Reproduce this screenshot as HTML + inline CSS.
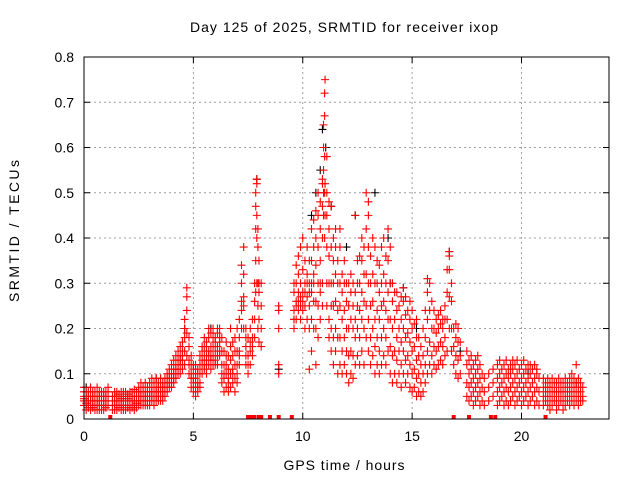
<!DOCTYPE html>
<html><head><meta charset="utf-8"><style>
html,body{margin:0;padding:0;background:#fff;}
svg{display:block;font-family:"Liberation Sans",sans-serif;}
</style></head><body>
<svg id="chart" width="640" height="480" viewBox="0 0 640 480">
<rect width="640" height="480" fill="#fff"/>
<text x="344" y="32" font-size="14" text-anchor="middle" textLength="308" lengthAdjust="spacing" fill="#000">Day 125 of 2025, SRMTID for receiver ixop</text>
<text transform="translate(19,231) rotate(-90)" font-size="14" text-anchor="middle" textLength="142" lengthAdjust="spacing" fill="#000">SRMTID / TECUs</text>
<text x="344" y="470" font-size="14" text-anchor="middle" textLength="121" lengthAdjust="spacing" fill="#000">GPS time / hours</text>
<g id="grid"></g>
<g id="marks"></g>
<g id="ticks"></g>
<rect x="84" y="57" width="525" height="362" fill="none" stroke="#000" stroke-width="1"/>
</svg>
<script>
const xTicks=[0,5,10,15,20];
const yTicks=[0,0.1,0.2,0.3,0.4,0.5,0.6,0.7,0.8];
const zeroHours=[1.2,7.5,7.55,7.7,7.8,8.0,8.1,8.5,8.9,9.5,16.9,17.6,18.6,18.8,21.1];
const blackPoints=[[4.6,.2],[7.9,.53],[10.9,.64],[11.05,.6],[10.6,.5],[12.4,.45],[13.9,.4],[16.7,.37],[8.9,.11],[10.4,.45],[14,.3],[12,.38],[5.8,.2],[15.2,.2],[9.6,.22],[17.2,.15],[0.1,.07],[3.3,.09],[20.3,.1],[22.5,.08],[13.3,.5],[10.8,.55],[11.3,.47],[14.6,.29]];
/* rows: [hour, value, value, ...] */
const redRows=[
[0.0,.03,.05,.07,.04,.06,.045],[0.1,.02,.04,.06,.03,.05,.035],[0.2,.03,.05,.04,.06,.025],[0.3,.04,.03,.05,.07,.02],[0.4,.03,.05,.04,.025,.06],[0.5,.04,.03,.05,.06,.02],
[0.6,.03,.04,.05,.02,.07],[0.7,.04,.03,.05,.06,.02],[0.8,.03,.05,.04,.02,.06],[0.9,.04,.03,.06,.05,.02],[1.0,.03,.05,.04,.06,.025],[1.1,.04,.03,.05,.07,.06],
[1.3,.03,.05,.02,.04],[1.4,.04,.03,.05,.06,.02],[1.5,.03,.05,.04,.02,.06],[1.6,.04,.03,.05,.025,.055],[1.7,.03,.045,.02,.06,.04],[1.8,.04,.03,.05,.06,.02],
[1.9,.03,.05,.04,.02,.06],[2.0,.045,.03,.05,.025,.055],[2.1,.03,.04,.06,.02,.05],[2.2,.04,.03,.05,.06,.025],[2.3,.03,.05,.04,.02,.065],[2.4,.04,.035,.05,.06,.025],
[2.5,.03,.05,.07,.04,.06],[2.6,.04,.06,.03,.08,.05],[2.7,.05,.03,.07,.04,.06],[2.8,.04,.06,.08,.03,.05],[2.9,.05,.07,.03,.06,.04],[3.0,.04,.06,.08,.05,.03],
[3.1,.05,.07,.04,.06,.09],[3.2,.04,.06,.08,.05,.03],[3.3,.05,.07,.09,.04,.06],[3.4,.06,.04,.08,.05,.07],[3.5,.05,.07,.09,.04,.06],[3.6,.06,.08,.05,.07,.04],
[3.7,.05,.07,.09,.06,.08],[3.8,.06,.08,.1,.07,.09],[3.9,.07,.09,.11,.08,.1],[4.0,.08,.1,.12,.09,.07],[4.1,.09,.11,.13,.1,.08],[4.2,.1,.12,.14,.11,.09],
[4.3,.11,.13,.15,.12,.1],[4.4,.1,.14,.16,.12,.13],[4.5,.11,.14,.17,.13,.15],[4.6,.12,.18,.22,.15,.2],[4.7,.14,.24,.29,.27,.19],[4.8,.1,.13,.16,.18,.12],
[4.9,.07,.1,.12,.09,.14],[5.0,.06,.08,.11,.09,.12],[5.1,.05,.07,.09,.1,.12],[5.2,.06,.08,.1,.07,.11],[5.3,.08,.1,.12,.07,.14],[5.4,.1,.13,.16,.12,.15],
[5.5,.11,.14,.18,.12,.16],[5.6,.1,.13,.17,.15,.12],[5.7,.12,.15,.18,.14,.2],[5.8,.11,.14,.19,.16,.13],[5.9,.12,.16,.2,.14,.18],[6.0,.13,.15,.18,.12,.17],
[6.1,.12,.16,.19,.14,.2],[6.2,.14,.17,.2,.15,.18],[6.3,.08,.12,.15,.1,.18],[6.4,.06,.09,.12,.15,.1],[6.5,.07,.1,.14,.12,.17],[6.6,.06,.09,.11,.14,.08],
[6.7,.07,.1,.13,.16,.2],[6.8,.08,.11,.14,.17,.1],[6.9,.06,.09,.12,.15,.18],[7.0,.08,.12,.15,.2,.1],[7.1,.12,.15,.18,.22,.14],[7.2,.2,.26,.3,.34,.24],
[7.3,.2,.27,.32,.38,.25],[7.4,.12,.16,.2,.14,.18],[7.5,.1,.14,.18,.12],[7.6,.12,.15,.2,.17],[7.7,.14,.18,.22,.16],[7.8,.18,.22,.3,.26],
[7.85,.35,.42,.47,.5,.28],[7.9,.3,.4,.45,.52,.53],[7.95,.25,.3,.38,.42,.2],[8.0,.17,.22,.28,.35,.3],[8.1,.16,.2,.25,.3],
[8.9,.1,.12,.2,.24,.25],[9.6,.2,.24,.28,.3,.22],[9.7,.22,.26,.3,.34,.25],[9.8,.24,.28,.32,.36,.26],[9.9,.22,.27,.3,.38,.25],[10.0,.24,.28,.33,.4,.26],
[10.1,.2,.25,.3,.35,.28],[10.2,.22,.27,.32,.38,.3],[10.3,.11,.2,.25,.3,.35,.28],[10.4,.15,.22,.28,.35,.42,.3],[10.5,.2,.26,.32,.38,.44,.3],[10.6,.12,.2,.26,.34,.4,.46],
[10.7,.18,.25,.3,.38,.45,.5],[10.8,.22,.28,.35,.42,.48,.3],[10.9,.25,.3,.4,.47,.52,.53],[10.95,.45,.55,.6,.65,.5],[11.0,.4,.5,.58,.67,.72],[11.02,.75,.52,.45],
[11.1,.25,.3,.38,.45,.5,.58],[11.2,.18,.22,.3,.36,.42,.48],[11.3,.15,.2,.25,.3,.38,.47],[11.4,.12,.18,.25,.3,.35,.4],[11.5,.15,.2,.26,.32,.38,.42],[11.6,.1,.18,.24,.3,.35],
[11.7,.12,.18,.25,.3,.38,.42],[11.8,.1,.15,.22,.28,.32],[11.9,.12,.18,.24,.3,.35],[12.0,.1,.15,.2,.26,.3],[12.1,.08,.14,.2,.25,.3],[12.2,.1,.15,.22,.28,.32],
[12.3,.09,.14,.2,.25,.3],[12.4,.12,.18,.22,.28,.45],[12.5,.14,.2,.25,.3,.35],[12.6,.12,.18,.24,.3,.36],[12.7,.15,.22,.28,.35,.4],[12.8,.12,.2,.26,.32,.38],
[12.9,.18,.25,.32,.42,.5],[13.0,.15,.22,.3,.38,.45,.48],[13.1,.12,.18,.25,.3,.36],[13.2,.14,.2,.26,.32,.4],[13.3,.1,.16,.22,.3,.38],[13.4,.12,.18,.24,.3,.35],
[13.5,.1,.15,.22,.28,.34],[13.6,.12,.18,.25,.3,.38],[13.7,.14,.2,.26,.32,.4],[13.8,.12,.18,.24,.3,.36],[13.9,.15,.22,.28,.35,.42],[14.0,.1,.16,.22,.3,.38],
[14.1,.08,.14,.2,.26,.3],[14.2,.1,.15,.22,.28],[14.3,.08,.13,.18,.24,.28],[14.4,.1,.15,.2,.25],[14.5,.07,.12,.17,.22,.27],[14.6,.1,.15,.2,.26,.29],
[14.7,.08,.13,.18,.23,.27],[14.8,.1,.14,.19,.24],[14.9,.07,.12,.17,.22,.26],[15.0,.06,.1,.15,.2,.24],[15.1,.07,.11,.16,.21],[15.2,.05,.09,.13,.18,.22],
[15.3,.06,.1,.14,.18],[15.4,.05,.08,.12,.16],[15.5,.06,.1,.14,.2],[15.6,.08,.12,.18,.24],[15.7,.1,.15,.22,.28,.31],[15.8,.12,.17,.24,.3],
[15.9,.1,.14,.2,.26],[16.0,.12,.16,.2,.24],[16.1,.11,.15,.19,.22],[16.2,.12,.16,.2,.23],[16.3,.13,.17,.21,.24],[16.4,.12,.16,.2,.22],
[16.5,.14,.18,.22,.25],[16.6,.15,.22,.28,.33],[16.7,.2,.27,.33,.36,.37],[16.8,.15,.2,.26,.3],[16.9,.12,.16,.2],[17.0,.1,.14,.18,.21],
[17.1,.09,.13,.17,.2],[17.2,.1,.14,.17],[17.5,.05,.08,.12,.15],[17.6,.04,.07,.1,.13],[17.7,.05,.08,.11,.14],[17.8,.03,.06,.09,.12],
[17.9,.04,.07,.1,.13],[18.0,.05,.08,.11,.14],[18.1,.03,.06,.09,.12],[18.2,.04,.07,.1],[18.3,.03,.06,.09],[18.5,.04,.07,.1],
[18.7,.05,.08,.11],[18.9,.03,.06,.09,.12],[19.0,.04,.07,.1,.13],[19.1,.05,.08,.11],[19.2,.03,.06,.09,.12],[19.3,.04,.07,.1,.13],
[19.4,.03,.06,.09,.11],[19.5,.04,.07,.1,.12],[19.6,.05,.08,.11,.13],[19.7,.03,.06,.09,.12],[19.8,.04,.07,.1,.13],[19.9,.05,.08,.11],
[20.0,.03,.06,.09,.12],[20.1,.04,.07,.1,.13],[20.2,.05,.08,.11],[20.3,.03,.06,.09,.12],[20.4,.04,.07,.1,.12],[20.5,.05,.08,.11],
[20.6,.03,.06,.09,.12],[20.7,.04,.07,.1,.11],[20.8,.03,.06,.09],[21.0,.03,.05,.07,.09],[21.1,.04,.06,.08],[21.2,.03,.05,.07,.09],
[21.3,.02,.04,.06,.08],[21.4,.03,.05,.07,.09],[21.5,.04,.06,.08],[21.6,.02,.04,.06,.08],[21.7,.03,.05,.07,.09],[21.8,.04,.06,.08],
[21.9,.02,.04,.06,.08],[22.0,.03,.05,.07,.09],[22.1,.04,.06,.08],[22.2,.03,.05,.07,.09],[22.3,.04,.06,.08,.1],[22.4,.03,.05,.07,.09],
[22.5,.04,.06,.08,.12],[22.6,.03,.05,.07,.09],[22.7,.04,.06,.08],[22.8,.04,.05,.07]];

const NS="http://www.w3.org/2000/svg";
const L=84,R=609,T=57,B=419,XMAX=24,YMAX=0.8;
function xs(v){return L+(R-L)*v/XMAX;}
function ys(v){return B-(B-T)*v/YMAX;}
function mk(tag,attrs,parent){const e=document.createElementNS(NS,tag);for(const k in attrs)e.setAttribute(k,attrs[k]);parent.appendChild(e);return e;}
const grid=document.getElementById('grid'),ticks=document.getElementById('ticks'),marks=document.getElementById('marks');
xTicks.forEach(t=>{const x=xs(t);
 if(t>0){const g=mk('line',{x1:x,y1:T,x2:x,y2:B,stroke:'#a0a0a0','stroke-dasharray':'2,3'},grid);
 
 }
 const a=mk('path',{d:`M${x},${B}v-6M${x},${T}v6`,stroke:'#000'},ticks);
 
 
 const l=mk('text',{x:x,y:B+22,'font-size':14,'text-anchor':'middle'},ticks);l.textContent=t;
 
 
});
yTicks.forEach(t=>{const y=ys(t);
 if(t>0&&t<YMAX){const g=mk('line',{x1:L,y1:y,x2:R,y2:y,stroke:'#a0a0a0','stroke-dasharray':'2,3'},grid);
 
 }
 const a=mk('path',{d:`M${L},${y}h6M${R},${y}h-6`,stroke:'#000'},ticks);
 
 
 const l=mk('text',{x:L-10,y:y+5,'font-size':14,'text-anchor':'end'},ticks);l.textContent=(t===0?'0':t.toFixed(1));
 
 
});
function plus(t,v,color,name){const x=xs(t),y=ys(v);
 const e=mk('path',{d:`M${x-4},${y}h8M${x},${y-4}v8`,stroke:color,'stroke-width':1.1},marks);
 
 
}
blackPoints.forEach(p=>plus(p[0],p[1],'#000','black-point'));
redRows.forEach(r=>{for(let i=1;i<r.length;i++)plus(r[0],r[i],'#ff0000','red-point');});
zeroHours.forEach(t=>{const e=mk('rect',{x:xs(t)-2,y:ys(0)-4,width:4,height:4,fill:'#ff0000'},marks);
 
 
});
</script>
</body></html>
